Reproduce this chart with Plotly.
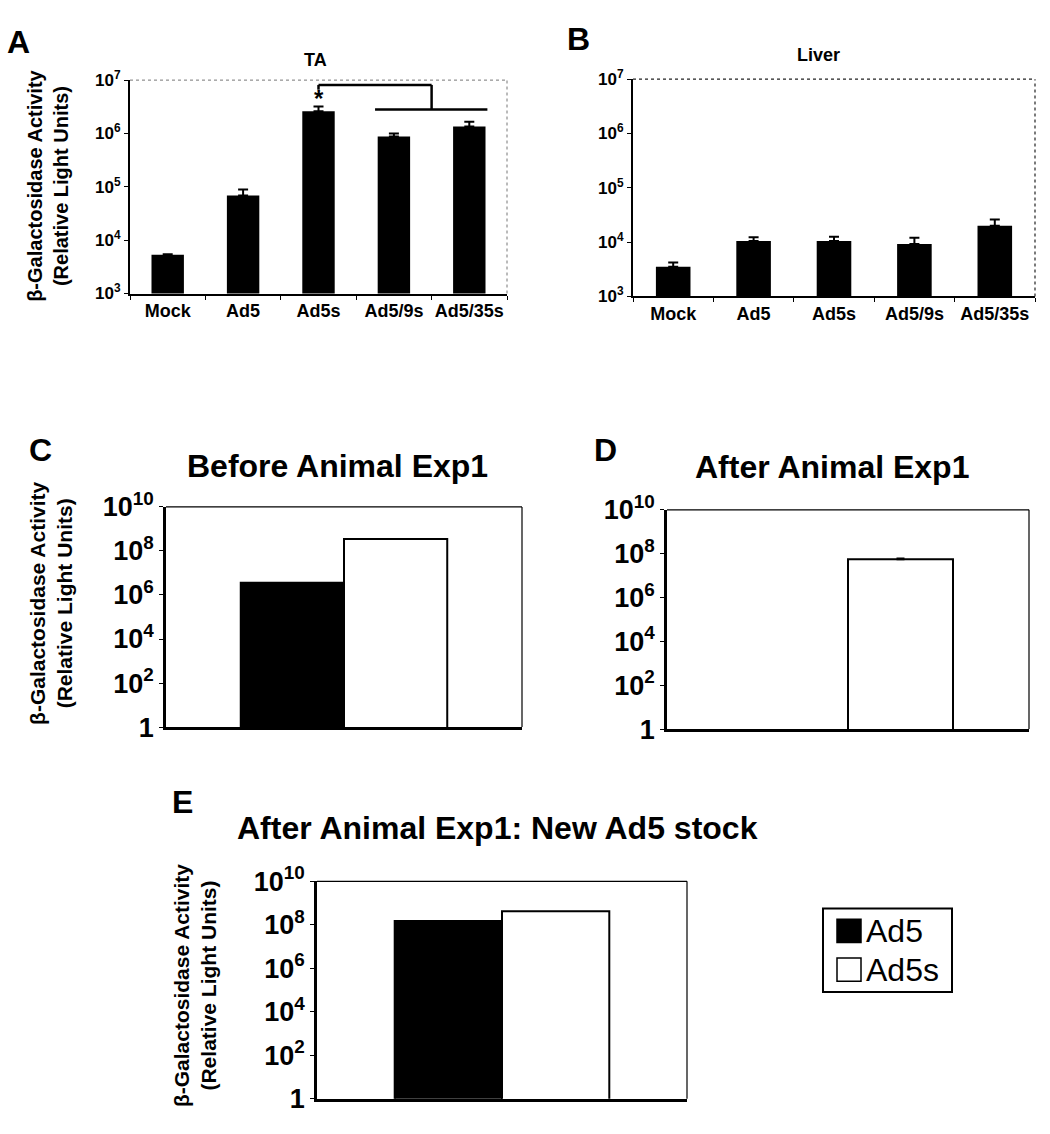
import plotly.graph_objects as go

W, H = 1050, 1134

# ---------------- data ----------------
groups = ["Mock", "Ad5", "Ad5s", "Ad5/9s", "Ad5/35s"]
ta_values = [5300, 69000, 2.6e6, 8.8e5, 1.35e6]
ta_errors = [150, 20000, 6.0e5, 1.2e5, 3.0e5]
liver_values = [3500, 10500, 10500, 9200, 20000]
liver_errors = [700, 1800, 2000, 2800, 6000]

series = ["Ad5", "Ad5s"]
series_fill = ["black", "white"]
before_values = [3.6e6, 3.5e8]
after_values = [None, 5.5e7]
after_errors = [0, 5.0e6]
newstock_values = [1.5e8, 4.2e8]

ab_tickvals = [1e3, 1e4, 1e5, 1e6, 1e7]
ab_ticktext = ["10<sup>3</sup>", "10<sup>4</sup>", "10<sup>5</sup>", "10<sup>6</sup>", "10<sup>7</sup>"]
cde_tickvals = [1, 1e2, 1e4, 1e6, 1e8, 1e10]
cde_ticktext = ["1", "10<sup>2</sup>", "10<sup>4</sup>", "10<sup>6</sup>", "10<sup>8</sup>", "10<sup>10</sup>"]

FONT = "Liberation Sans, Arial, sans-serif"
YTITLE = "β-Galactosidase Activity<br>(Relative Light Units)"


def px_x(a, b):
    return [a / W, b / W]


def px_y(top, bottom):
    return [1 - bottom / H, 1 - top / H]


fig = go.Figure()

# ---------------- panel A / B ----------------
fig.add_trace(go.Bar(x=groups, y=ta_values, width=0.43, marker=dict(color="black", line=dict(width=0)),
                     error_y=dict(type="data", array=ta_errors, arrayminus=[0] * 5, symmetric=False,
                                  color="black", thickness=2, width=5),
                     xaxis="x", yaxis="y", showlegend=False))
fig.add_trace(go.Bar(x=groups, y=liver_values, width=0.43, marker=dict(color="black", line=dict(width=0)),
                     error_y=dict(type="data", array=liver_errors, arrayminus=[0] * 5, symmetric=False,
                                  color="black", thickness=2, width=5),
                     xaxis="x2", yaxis="y2", showlegend=False))

# ---------------- panels C / D / E ----------------
panel_cde = [("x3", "y3", before_values, None),
             ("x4", "y4", after_values, after_errors),
             ("x5", "y5", newstock_values, None)]
for xa, ya, vals, errs in panel_cde:
    for i, name in enumerate(series):
        kw = {}
        if errs is not None and errs[i]:
            kw["error_y"] = dict(type="data", array=[errs[i]], arrayminus=[0], symmetric=False,
                                 color="black", thickness=2, width=4)
        fig.add_trace(go.Bar(x=[""], y=[vals[i]], name=name, offsetgroup=str(i),
                             marker=dict(color=series_fill[i], line=dict(color="black", width=2)),
                             xaxis=xa, yaxis=ya, showlegend=False, **kw))

ab_y = dict(type="log", range=[3, 7], tickvals=ab_tickvals, ticktext=ab_ticktext,
            tickfont=dict(family=FONT, size=17, color="black", weight="bold"),
            showline=True, linecolor="black", linewidth=2, ticks="outside", ticklen=4,
            tickcolor="black", showgrid=False, zeroline=False)
ab_x = dict(type="category", tickangle=0, tickfont=dict(family=FONT, size=18, color="black", weight="bold"),
            showline=True, linecolor="black", linewidth=2, ticks="outside", ticklen=4,
            tickcolor="black", tickson="boundaries", showgrid=False, zeroline=False)
cde_y = dict(type="log", range=[0, 10], tickvals=cde_tickvals, ticktext=cde_ticktext,
             tickfont=dict(family=FONT, size=27, color="black", weight="bold"),
             showline=True, linecolor="black", linewidth=2.5, ticks="outside", ticklen=4,
             tickcolor="black", showgrid=False, zeroline=False)
cde_x = dict(type="category", showticklabels=False, showline=True, linecolor="black", linewidth=2.5,
             ticks="", showgrid=False, zeroline=False)

fig.update_layout(
    width=W, height=H, margin=dict(l=0, r=0, t=0, b=0),
    paper_bgcolor="white", plot_bgcolor="white",
    barmode="group", bargap=0.42, bargroupgap=0,
    showlegend=False,
    font=dict(family=FONT, color="black"),
    xaxis=dict(domain=px_x(130, 507), anchor="y", **ab_x),
    yaxis=dict(domain=px_y(63, 283), anchor="x", **ab_y),
    xaxis2=dict(domain=px_x(633, 1035), anchor="y2", **ab_x),
    yaxis2=dict(domain=px_y(62, 286), anchor="x2", **ab_y),
    xaxis3=dict(domain=px_x(166, 522), anchor="y3", **cde_x),
    yaxis3=dict(domain=px_y(503, 730), anchor="x3", **cde_y),
    xaxis4=dict(domain=px_x(667, 1029), anchor="y4", **cde_x),
    yaxis4=dict(domain=px_y(506, 732), anchor="x4", **cde_y),
    xaxis5=dict(domain=px_x(317, 687), anchor="y5", **cde_x),
    yaxis5=dict(domain=px_y(889, 1113), anchor="x5", **cde_y),
)

shapes = []
# top / right frame lines of each panel
frames = [("x", "y", "#777", 1, "dot"), ("x2", "y2", "#222", 1.2, "dot"),
          ("x3", "y3", "black", 1.2, "solid"), ("x4", "y4", "black", 1.2, "solid"),
          ("x5", "y5", "black", 1.2, "solid")]
for xa, ya, col, lw, dash in frames:
    xr, yr = xa + " domain", ya + " domain"
    shapes.append(dict(type="line", xref=xr, yref=yr, x0=0, x1=1, y0=1, y1=1,
                       line=dict(color=col, width=lw, dash=dash)))
    shapes.append(dict(type="line", xref=xr, yref=yr, x0=1, x1=1, y0=0, y1=1,
                       line=dict(color=col, width=lw, dash=dash)))

# significance bracket in panel A, placed in axis-domain fractions
n = len(groups)
i_s, i_9, i_35 = groups.index("Ad5s"), groups.index("Ad5/9s"), groups.index("Ad5/35s")


def fx(idx):
    return (idx + 0.5) / n


def fy(logv):
    return (logv - 3) / 4


low_y, high_y = fy(6.45), fy(6.91)
mid_x = fx((i_9 + i_35) / 2)
br = dict(color="black", width=2.5)
shapes += [
    dict(type="line", xref="x domain", yref="y domain", x0=fx(i_9 - 0.25), x1=fx(i_35 + 0.24),
         y0=low_y, y1=low_y, line=br),
    dict(type="line", xref="x domain", yref="y domain", x0=mid_x, x1=mid_x, y0=low_y, y1=high_y, line=br),
    dict(type="line", xref="x domain", yref="y domain", x0=fx(i_s), x1=mid_x, y0=high_y, y1=high_y, line=br),
    dict(type="line", xref="x domain", yref="y domain", x0=fx(i_s), x1=fx(i_s), y0=high_y,
         y1=fy(6.82), line=br),
]

# manual legend for panel E
lg_x0, lg_y0, lg_x1, lg_y1 = 823, 917, 952, 1003
shapes.append(dict(type="rect", xref="paper", yref="paper", x0=lg_x0 / W, x1=lg_x1 / W,
                   y0=1 - lg_y1 / H, y1=1 - lg_y0 / H, line=dict(color="black", width=2),
                   fillcolor="white"))
annotations = []
for i, name in enumerate(series):
    cy = 940 + 40 * i
    shapes.append(dict(type="rect", xref="paper", yref="paper", x0=837 / W, x1=861 / W,
                       y0=1 - (cy + 12) / H, y1=1 - (cy - 12) / H,
                       line=dict(color="black", width=1.5), fillcolor=series_fill[i]))
    annotations.append(dict(text=name, xref="paper", yref="paper", x=864 / W, y=1 - cy / H,
                            xanchor="left", yanchor="middle", showarrow=False,
                            font=dict(family=FONT, size=32, color="black")))

fig.update_layout(shapes=shapes)


def ann(text, x, y, size, bold=True, angle=0):
    return dict(text=text, xref="paper", yref="paper", x=x / W, y=1 - y / H,
                xanchor="center", yanchor="middle", showarrow=False, textangle=angle,
                font=dict(family=FONT, size=size, color="black", weight="bold" if bold else "normal"))


annotations += [
    ann("A", 18, 24, 32), ann("B", 578, 21, 32), ann("C", 40, 444, 32),
    ann("D", 605, 444, 32), ann("E", 182, 807, 32),
    ann("TA", 315, 42, 18), ann("Liver", 818, 37, 18),
    ann("Before Animal Exp1", 337, 461, 32), ann("After Animal Exp1", 832, 462, 32),
    ann("After Animal Exp1: New Ad5 stock", 497, 834, 32),
    ann(YTITLE, 48, 172, 20, angle=-90), ann(YTITLE, 51, 603, 21, angle=-90),
    ann(YTITLE, 195, 997, 21, angle=-90),
    dict(text="<b>*</b>", xref="x domain", yref="y domain", x=fx(i_s), y=fy(6.66), showarrow=False,
         xanchor="center", yanchor="middle", font=dict(family=FONT, size=24, color="black")),
]
fig.update_layout(annotations=annotations)

fig.write_html("out.html")
